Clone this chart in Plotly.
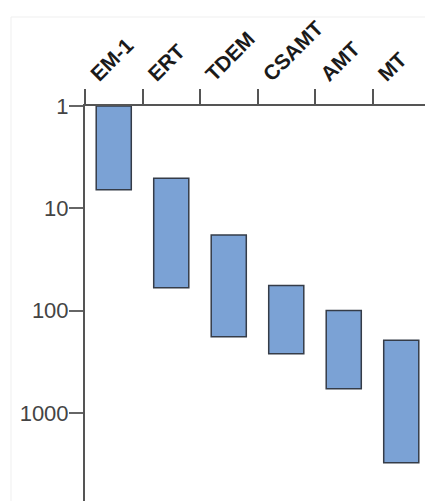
import plotly.graph_objects as go

methods = ["EM-1", "ERT", "TDEM", "CSAMT", "AMT", "MT"]
range_top = [1, 5.1, 18.2, 57, 100, 195]
range_bottom = [6.6, 60, 180, 265, 580, 3070]
y_ticks = [1, 10, 100, 1000]
y_tick_labels = ["1", "10", "100", "1000"]

# the page body adds an 8px offset, so the figure is sized to the remaining viewport
W, H = 425, 493
L, R, T, B = 77, 3, 98, 0
PW, PH = W - L - R, H - T - B

fig = go.Figure()
fig.add_trace(go.Bar(
    x=methods,
    base=range_top,
    y=[b - t for t, b in zip(range_top, range_bottom)],
    width=0.61,
    marker=dict(color="#7ba2d5", line=dict(color="#353c48", width=1.5)),
    showlegend=False,
    hoverinfo="skip",
))

fig.update_layout(
    width=W, height=H,
    margin=dict(l=L, r=R, t=T, b=B, pad=0, autoexpand=False),
    paper_bgcolor="white", plot_bgcolor="white",
    font=dict(family="Liberation Sans, Arial, sans-serif", color="#222"),
    xaxis=dict(
        side="top", type="category", range=[-0.5, 5.5], automargin=False,
        tickson="boundaries", ticks="outside", ticklen=15, tickwidth=1.5, tickcolor="#555",
        showline=True, linecolor="#555", linewidth=2,
        showgrid=False, zeroline=False,
        tickangle=-45, tickfont=dict(size=21, color="#1a1a1a", weight="bold"),
        ticklabelshift=-22, ticklabelstandoff=10,
    ),
    yaxis=dict(
        type="log", range=[3.862, 0], automargin=False,
        tickvals=y_ticks, ticktext=y_tick_labels,
        ticks="outside", ticklen=14, tickwidth=1.5, tickcolor="#666",
        showline=True, linecolor="#555", linewidth=2,
        showgrid=False, zeroline=False,
        tickfont=dict(size=22, color="#444"),
        ticklabelstandoff=-4,
    ),
)

# faint outer frame of the original figure
fx = (3 - L) / PW
fy = 1 + (T - 9) / PH
fig.add_shape(type="line", xref="paper", yref="paper",
              x0=fx, x1=1.0, y0=fy, y1=fy, line=dict(color="#efefef", width=1))
fig.add_shape(type="line", xref="paper", yref="paper",
              x0=fx, x1=fx, y0=0, y1=fy, line=dict(color="#efefef", width=1))

fig.write_html("out.html")
